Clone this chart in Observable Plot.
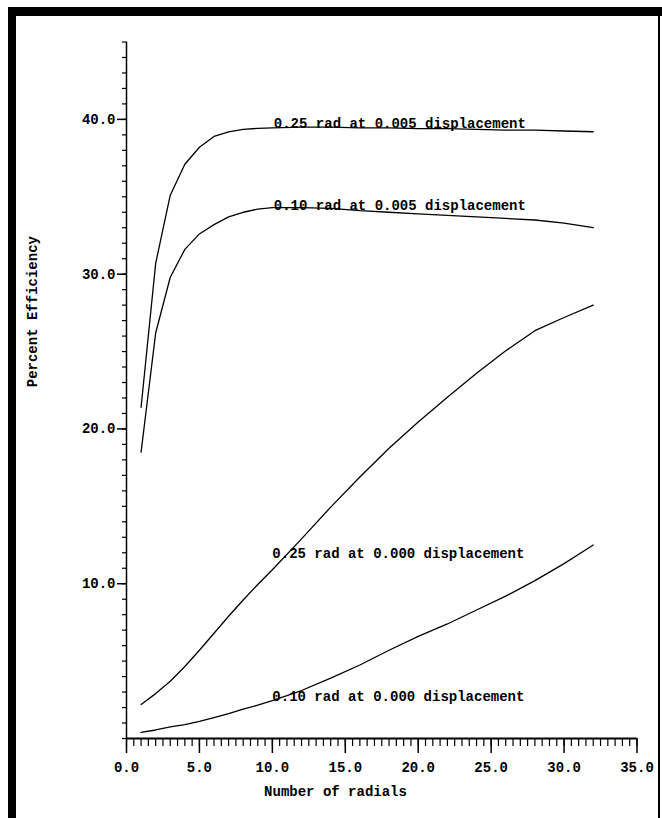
<!DOCTYPE html>
<html>
<head>
<meta charset="utf-8">
<script src="https://cdn.jsdelivr.net/npm/d3@7"></script>
<script src="https://cdn.jsdelivr.net/npm/@observablehq/plot@0.6"></script>
<style>
  html, body { margin: 0; padding: 0; background: #fff; }
  #wrap { position: relative; width: 662px; height: 818px; overflow: hidden; }
  #wrap svg { position: absolute; left: 0; top: 0; }
  .bar { position: absolute; background: #000; }
</style>
</head>
<body>
<div id="wrap">
  <div class="bar" style="left:8px;top:7px;width:654px;height:9px;"></div>
  <div class="bar" style="left:8px;top:7px;width:8px;height:811px;"></div>
  <div class="bar" style="left:658px;top:7px;width:2px;height:811px;"></div>
</div>
<script>
// Number of radials
const radials = [1, 2, 3, 4, 5, 6, 7, 8, 9, 10, 12, 14, 16, 18, 20, 22, 24, 26, 28, 30, 32];
// Percent efficiency per series
const eff025_005 = [21.4, 30.7, 35.1, 37.1, 38.2, 38.9, 39.2, 39.35, 39.42, 39.45, 39.5, 39.5, 39.45, 39.45, 39.4, 39.4, 39.35, 39.3, 39.3, 39.25, 39.2];
const eff010_005 = [18.5, 26.2, 29.8, 31.6, 32.6, 33.2, 33.7, 34.0, 34.2, 34.3, 34.3, 34.25, 34.1, 34.0, 33.9, 33.8, 33.7, 33.6, 33.5, 33.3, 33.0];
const eff025_000 = [2.2, 2.9, 3.7, 4.65, 5.7, 6.8, 7.9, 8.95, 9.95, 10.9, 12.9, 14.95, 16.9, 18.75, 20.45, 22.05, 23.6, 25.05, 26.35, 27.2, 28.0];
const eff010_000 = [0.4, 0.55, 0.75, 0.9, 1.1, 1.35, 1.6, 1.9, 2.15, 2.45, 3.1, 3.9, 4.75, 5.7, 6.6, 7.4, 8.3, 9.2, 10.2, 11.3, 12.5];

const seriesNames = [
  "0.25 rad at 0.005 displacement",
  "0.10 rad at 0.005 displacement",
  "0.25 rad at 0.000 displacement",
  "0.10 rad at 0.000 displacement"
];
const seriesValues = [eff025_005, eff010_005, eff025_000, eff010_000];
// label anchor (data units)
const labelX = [10.1, 10.1, 10.0, 10.0];
const labelY = [39.75, 34.45, 11.95, 2.7];

const xMajor = [0, 5, 10, 15, 20, 25, 30, 35];
const yMajor = [10, 20, 30, 40];

const rows = [];
seriesNames.forEach((name, i) => {
  radials.forEach((r, j) => rows.push({series: name, radials: r, eff: seriesValues[i][j]}));
});
const labels = seriesNames.map((name, i) => ({name, x: labelX[i], y: labelY[i]}));

const font = "'Liberation Mono', 'DejaVu Sans Mono', monospace";

const chart = Plot.plot({
  width: 662,
  height: 818,
  marginLeft: 126,
  marginRight: 25.5,
  marginTop: 41.5,
  marginBottom: 80,
  style: {fontFamily: font, fontSize: "14px", fontWeight: "bold", color: "#000", background: "transparent"},
  x: {domain: [0, 35]},
  y: {domain: [0, 45]},
  marks: [
    // minor ticks
    Plot.axisX({ticks: d3.range(0, 35.001, 0.5), tickSize: 8, tickFormat: () => "", strokeWidth: 1.2, label: null}),
    Plot.axisY({ticks: d3.range(0, 45.001, 1), tickSize: 4, tickFormat: () => "", strokeWidth: 1.2, label: null}),
    // major ticks + labels
    Plot.axisX({ticks: xMajor, tickSize: 15, tickPadding: 9, tickFormat: d3.format(".1f"), strokeWidth: 1.5, label: null, fontSize: 14, fontWeight: "bold"}),
    Plot.axisY({ticks: yMajor, tickSize: 9, tickPadding: 2, tickFormat: d3.format(".1f"), strokeWidth: 1.5, label: null, fontSize: 14, fontWeight: "bold"}),
    // axis lines
    Plot.ruleY([0], {x1: 0, x2: 35, stroke: "#000", strokeWidth: 1.8}),
    Plot.ruleX([0], {y1: 0, y2: 45, stroke: "#000", strokeWidth: 1.5}),
    // curves
    Plot.line(rows, {x: "radials", y: "eff", z: "series", stroke: "#000", strokeWidth: 1.3, curve: "linear"}),
    // curve labels
    Plot.text(labels, {x: "x", y: "y", text: "name", textAnchor: "start", fontSize: 14, fontWeight: "bold", fill: "#000"}),
    // axis titles
    Plot.text(["Percent Efficiency"], {frameAnchor: "left", dx: -94, dy: -3, rotate: -90, fontSize: 14, fontWeight: "bold", fill: "#000"}),
    Plot.text(["Number of radials"], {frameAnchor: "bottom-left", dx: 209, dy: 57, textAnchor: "middle", fontSize: 14, fontWeight: "bold", fill: "#000"})
  ]
});
document.getElementById("wrap").prepend(chart);
</script>
</body>
</html>
